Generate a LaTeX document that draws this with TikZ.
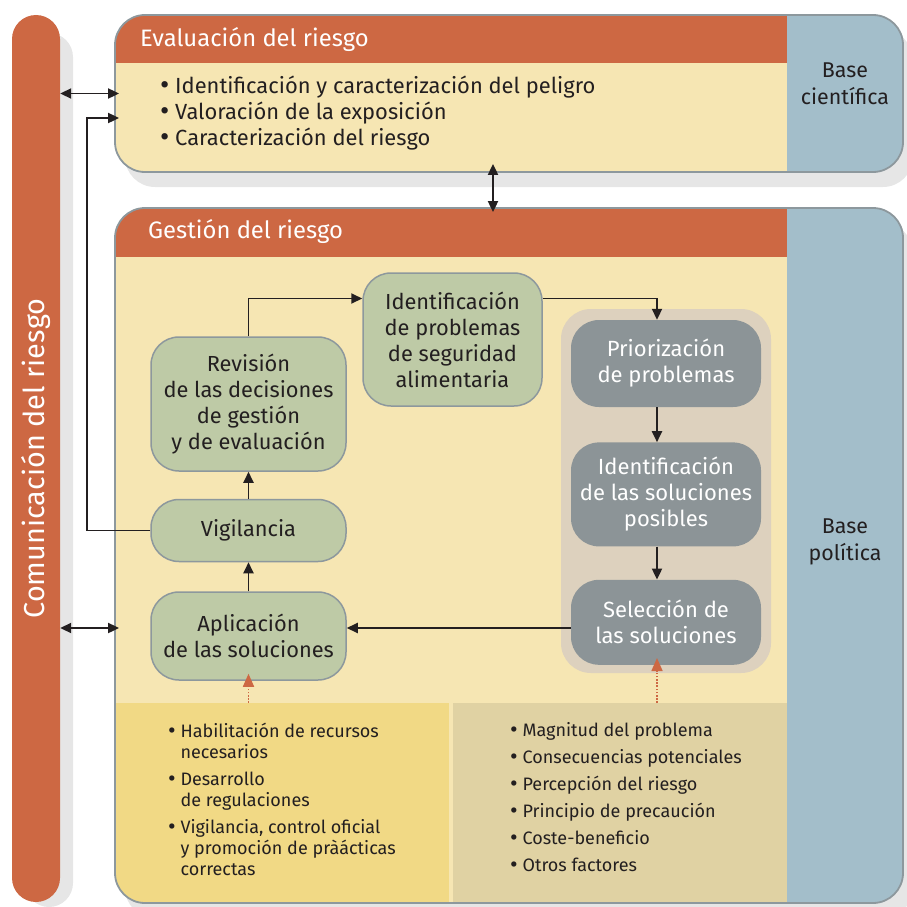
\documentclass[tikz,border=0pt]{standalone}
\usepackage{fontspec}
\setmainfont{Fira Sans}
\usetikzlibrary{positioning}
\usetikzlibrary{arrows.meta}

\definecolor{naranja}{HTML}{CD6843}
\definecolor{crema}{HTML}{F6E6B3}
\definecolor{azul}{HTML}{A3BECA}
\definecolor{verdecaja}{HTML}{BECAA6}
\definecolor{griscaja}{HTML}{8C9497}
\definecolor{grisfondo}{HTML}{DDD1BE}
\definecolor{amarillo}{HTML}{F1D985}
\definecolor{beige}{HTML}{E0D2A3}
\definecolor{sombra}{HTML}{E6E6E6}
\definecolor{borde}{HTML}{8D989D}
\definecolor{tinta}{HTML}{231F20}

\newcommand{\punto}{\raisebox{-0.12ex}{\scalebox{1.3}{\textbullet}}\ }
\newcommand{\sangria}{\phantom{\punto}}

\begin{document}
\begin{tikzpicture}[x=1pt, y=-1pt]

\tikzset{
  marco/.style={draw=borde, line width=1.8pt, rounded corners=30pt, minimum width=788pt},
  caja/.style={draw=borde, line width=1.5pt, fill=verdecaja, rounded corners=28pt, align=center, text=tinta, font=\fontsize{21.8}{26}\selectfont, inner sep=0pt},
  cajagris/.style={fill=griscaja, rounded corners=28pt, align=center, text=white, font=\fontsize{22}{26}\selectfont, inner sep=0pt, minimum width=190pt},
  titulo/.style={text=white, anchor=west, inner sep=0pt, font=\fontsize{23.8}{28}\selectfont},
  lista/.style={text=tinta, anchor=west, align=left, inner sep=0pt},
  flecha/.style={draw=tinta, line width=1.9pt, -{Triangle[length=11pt, width=10pt]}},
  doble/.style={draw=tinta, line width=1.9pt, {Triangle[length=11pt, width=10pt]}-{Triangle[length=11pt, width=10pt]}},
  punteada/.style={draw=naranja, line width=1.6pt, dash pattern=on 1.6pt off 1.6pt, -{Triangle[length=13pt, width=11pt]}, shorten >=-7pt}
}

\useasboundingbox (0,0) rectangle (907,907);

% sombras
\fill[sombra, rounded corners=24pt] (25,33) rectangle (73,907);
\fill[sombra, rounded corners=30pt] (125,30) rectangle (913,187);
\fill[sombra, rounded corners=30pt] (125,223) rectangle (913,918);

\node[fill=naranja, rounded corners=24pt, minimum width=48pt, minimum height=887pt, inner sep=0pt, text=white, font=\fontsize{28.8}{32}\selectfont] (comunicacion) at (36,458.5) {\rotatebox{90}{Comunicación del riesgo}};

% evaluacion
\begin{scope}
\clip[rounded corners=30pt] (115,15) rectangle (903,172);
\fill[crema] (115,15) rectangle (903,172);
\fill[naranja] (115,15) rectangle (787,63);
\fill[azul] (787,15) rectangle (903,172);
\end{scope}
\node[marco, minimum height=157pt] (evaluacion) at (509,93.5) {};

% gestion
\begin{scope}
\clip[rounded corners=30pt] (115,208) rectangle (903,903);
\fill[crema] (115,208) rectangle (903,903);
\fill[naranja] (115,208) rectangle (787,257);
\fill[azul] (787,208) rectangle (903,903);
\node[fill=amarillo, minimum width=334pt, minimum height=200pt, anchor=north west, inner sep=0pt] (panelizq) at (115,703) {};
\node[fill=beige, minimum width=334pt, minimum height=200pt, anchor=north west, inner sep=0pt] (panelder) at (453,703) {};
\end{scope}
\node[marco, minimum height=695pt] (gestion) at (509,555.5) {};

\node[titulo] (evaltitulo) at (140,40) {Evaluación del riesgo};
\node[titulo] (gesttitulo) at (148,232) {Gestión del riesgo};

\node[lista, font=\fontsize{21.9}{26}\selectfont] (evallista) at (160,113) {\punto Identificación y caracterización del peligro\\ \punto Valoración de la exposición\\ \punto Caracterización del riesgo};

\node[lista, anchor=center, align=center, font=\fontsize{21.4}{27}\selectfont] (basecient) at (845,84) {Base\\científica};
\node[lista, anchor=center, align=center, font=\fontsize{21.4}{27}\selectfont] (basepol) at (845,542) {Base\\política};

\node[fill=grisfondo, rounded corners=30pt, minimum width=210pt, minimum height=364pt, inner sep=0pt] (grupo) at (666,491) {};

\node[caja, minimum width=195pt, minimum height=134pt] (revision) at (248.5,404) {Revisión\\de las decisiones\\de gestión\\y de evaluación};
\node[caja, minimum width=195pt, minimum height=62pt, below=27pt of revision] (vigilancia) {Vigilancia};
\node[caja, minimum width=195pt, minimum height=88pt, below=29pt of vigilancia] (aplicacion) {Aplicación\\de las soluciones};
\node[caja, minimum width=179pt, minimum height=133pt] (identprob) at (452.5,339.5) {Identificación\\de problemas\\de seguridad\\alimentaria};

\node[cajagris, minimum height=87pt] (priorizacion) at (666,363.5) {Priorización\\de problemas};
\node[cajagris, minimum height=104pt, below=35pt of priorizacion] (identsol) {Identificación\\de las soluciones\\posibles};
\node[cajagris, minimum height=85pt, below=33pt of identsol] (seleccion) {Selección de\\las soluciones};

\node[lista, font=\fontsize{18}{21}\selectfont] (recursos) at (168,800) {\punto Habilitación de recursos\\\sangria necesarios\\[6pt]
  \punto Desarrollo\\\sangria de regulaciones\\[6pt]
  \punto Vigilancia, control oficial\\\sangria y promoción de pràácticas\\\sangria correctas};
\node[lista, font=\fontsize{18}{21}\selectfont] (factores) at (510,797.5) {\punto Magnitud del problema\\[6pt]
  \punto Consecuencias potenciales\\[6pt]
  \punto Percepción del riesgo\\[6pt]
  \punto Principio de precaución\\[6pt]
  \punto Coste-beneficio\\[6pt]
  \punto Otros factores};

\coordinate (eje) at (657,0);
\coordinate (nivel) at (0,628);
\coordinate (retorno) at (87,118);
\coordinate (enlace) at (493,0);

\draw[flecha] (aplicacion) -- (vigilancia);
\draw[flecha] (vigilancia) -- (revision);
\draw[flecha] (revision.north) |- ([yshift=41pt]identprob.west);
\draw[flecha] ([yshift=41pt]identprob.east) -| (eje |- priorizacion.north);
\draw[flecha] (priorizacion.south -| eje) -- (identsol.north -| eje);
\draw[flecha] (identsol.south -| eje) -- (seleccion.north -| eje);
\draw[flecha] (seleccion.west |- nivel) -- (aplicacion.east |- nivel);
\draw[flecha, shorten >=-5pt] (vigilancia.west) -| (retorno) -- (retorno -| evaluacion.west);

\draw[doble, shorten >=-5pt] (comunicacion.east |- evaluacion.west) -- (evaluacion.west);
\draw[doble, shorten >=-5pt] (comunicacion.east |- nivel) -- (gestion.west |- nivel);
\draw[doble, shorten <=-9pt, shorten >=-5pt] (evaluacion.south -| enlace) -- (gestion.north -| enlace);

\draw[punteada] (panelizq.north -| aplicacion) -- (aplicacion.south);
\draw[punteada] (panelder.north -| eje) -- (seleccion.south -| eje);
\end{tikzpicture}
\end{document}
